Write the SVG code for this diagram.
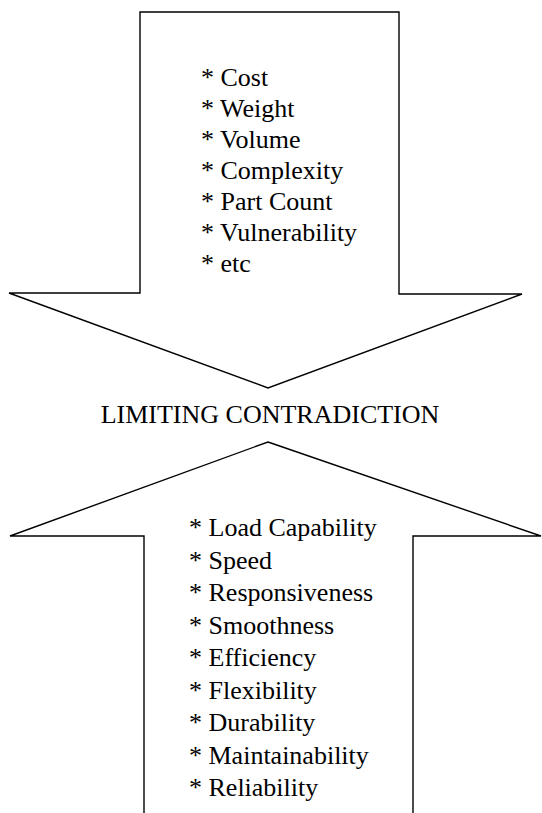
<svg xmlns="http://www.w3.org/2000/svg" width="542" height="813" viewBox="0 0 542 813">
<style>
.arrow{fill:#fff;stroke:#000;stroke-width:1.4;stroke-linejoin:miter}
.t{font-family:"Liberation Serif","Times New Roman",serif;font-size:26px;fill:#000}
</style>
<rect width="542" height="813" fill="#fff"/>
<g id="top-arrow">
<polygon class="arrow" points="140,12 399,12 399,294 522,294 268,388 9,293 140,293"/>
<text class="t" x="201" y="86">* Cost</text>
<text class="t" x="201" y="117">* Weight</text>
<text class="t" x="201" y="148">* Volume</text>
<text class="t" x="201" y="179">* Complexity</text>
<text class="t" x="201" y="210">* Part Count</text>
<text class="t" x="201" y="241">* Vulnerability</text>
<text class="t" x="201" y="272">* etc</text>
</g>
<g id="label">
<text class="t" x="270" y="423" text-anchor="middle">LIMITING CONTRADICTION</text>
</g>
<g id="bottom-arrow">
<polygon class="arrow" points="268,442 541,536 413,536 413,820 144,820 144,536 10,536"/>
<text class="t" x="189" y="536">* Load Capability</text>
<text class="t" x="189" y="568.5">* Speed</text>
<text class="t" x="189" y="601">* Responsiveness</text>
<text class="t" x="189" y="633.5">* Smoothness</text>
<text class="t" x="189" y="666">* Efficiency</text>
<text class="t" x="189" y="698.5">* Flexibility</text>
<text class="t" x="189" y="731">* Durability</text>
<text class="t" x="189" y="763.5">* Maintainability</text>
<text class="t" x="189" y="796">* Reliability</text>
</g>
<g id="connectors"></g>
</svg>
